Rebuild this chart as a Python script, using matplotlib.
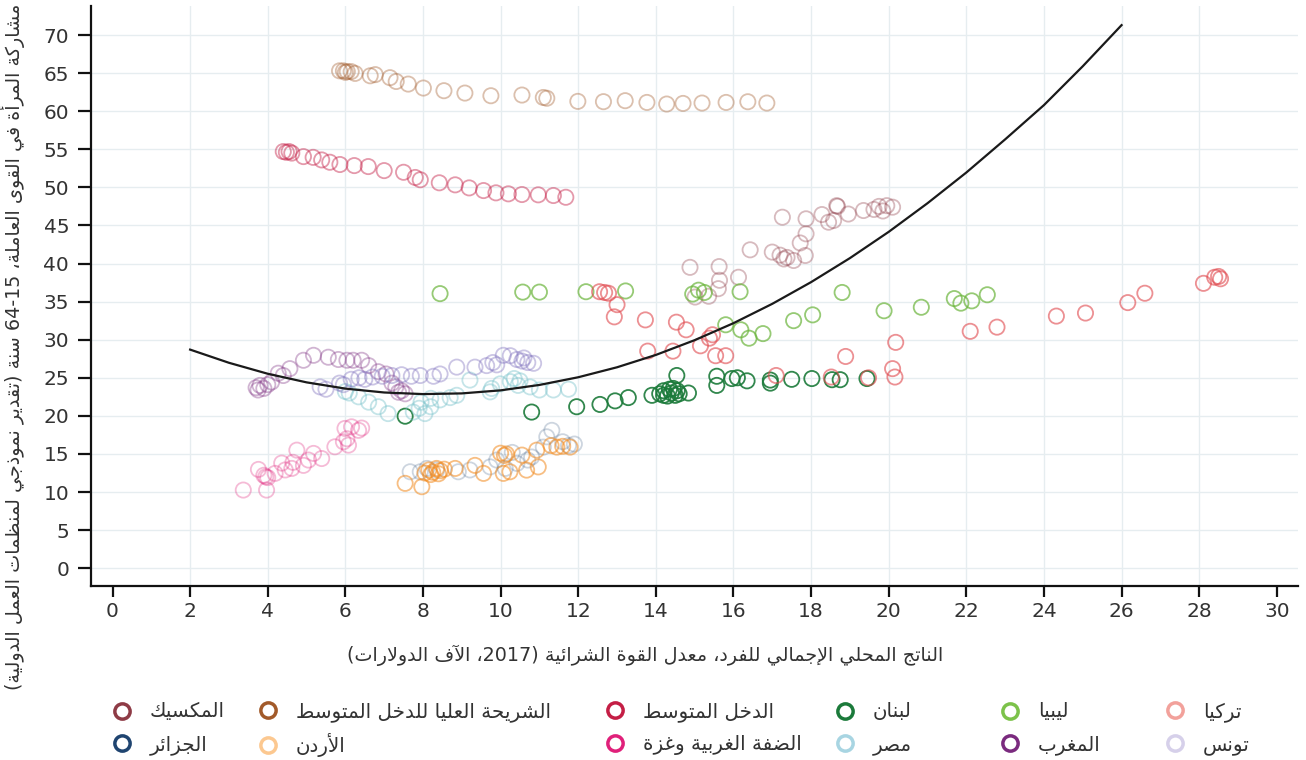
#!/usr/bin/env python3
# مشاركة المرأة في القوى العاملة مقابل الناتج المحلي للفرد - scatter + quadratic trend.

import re

import matplotlib
matplotlib.use("Agg")
import matplotlib.pyplot as plt
from matplotlib.lines import Line2D

# ---------------------------------------------------------------- data
mexico_x = [14.88, 15.63, 16.13, 15.64, 15.61, 15.01, 15.36, 16.43, 17.0, 17.2, 17.3, 17.38, 17.55, 17.72,
            17.85, 17.87, 17.26, 17.87, 18.28, 18.45, 18.58, 18.66, 18.68, 18.96, 19.35, 19.62, 19.75,
            19.85, 19.95, 20.1]
mexico_y = [39.5, 39.6, 38.2, 37.8, 36.7, 35.6, 35.7, 41.8, 41.5, 41.1, 40.6, 40.8, 40.4, 42.7,
            41.06, 43.9, 46.08, 45.87, 46.43, 45.43, 45.65, 47.6, 47.5, 46.5, 46.96, 47.1, 47.5,
            46.9, 47.6, 47.4]

umi_x = [5.85, 5.95, 6.05, 6.15, 6.0, 6.25, 6.64, 6.77, 7.15, 7.31, 7.62, 8.01, 8.54, 9.08, 9.75, 10.55,
         11.1, 11.19, 11.99, 12.65, 13.21, 13.77, 14.28, 14.70, 15.19, 15.81, 16.37, 16.86]
umi_y = [65.3, 65.3, 65.2, 65.2, 65.1, 64.96, 64.65, 64.8, 64.4, 63.9, 63.56, 63.04, 62.69, 62.38, 62.03,
         62.12, 61.8, 61.7, 61.29, 61.25, 61.38, 61.15, 60.94, 61.02, 61.07, 61.15, 61.24, 61.07]

mi_x = [4.40, 4.48, 4.55, 4.62, 4.92, 5.17, 5.39, 5.6, 5.86, 6.23, 6.59, 7.0, 7.5, 7.8, 7.93, 8.42, 8.83,
        9.19, 9.56, 9.88, 10.2, 10.55, 10.97, 11.36, 11.68]
mi_y = [54.7, 54.6, 54.7, 54.5, 54.04, 53.94, 53.6, 53.3, 53.0, 52.86, 52.73, 52.2, 51.98, 51.3, 51.0,
        50.6, 50.33, 49.93, 49.58, 49.28, 49.15, 49.06, 49.02, 48.93, 48.7]

lebanon_x = [7.54, 10.8, 11.96, 12.56, 12.95, 13.29, 13.9, 14.1, 14.2, 14.3, 14.35, 14.4, 14.5, 14.55,
             14.6, 14.2, 14.45, 14.84, 14.54, 15.57, 15.57, 15.96, 16.1, 16.35, 16.95, 16.95, 17.5,
             18.02, 18.54, 18.75, 19.44]
lebanon_y = [19.96, 20.5, 21.2, 21.5, 21.97, 22.4, 22.7, 22.9, 23.3, 22.6, 23.5, 23.0, 22.7, 23.3,
             22.9, 22.7, 23.6, 23.0, 25.3, 25.2, 24.0, 24.9, 25.0, 24.6, 24.7, 24.3, 24.8,
             24.9, 24.75, 24.75, 24.9]

libya_x = [8.44, 10.57, 11.0, 12.2, 13.22, 14.95, 15.1, 15.25, 16.17, 18.8, 15.8, 16.19, 16.4, 16.76,
           17.55, 18.04, 19.88, 20.84, 21.69, 21.86, 22.14, 22.54]
libya_y = [36.05, 36.25, 36.25, 36.3, 36.4, 36.0, 36.5, 36.2, 36.3, 36.2, 31.96, 31.3, 30.2, 30.8,
           32.5, 33.26, 33.8, 34.26, 35.4, 34.8, 35.1, 35.9]

turkey_x = [12.55, 12.68, 12.78, 13.0, 12.93, 13.73, 14.53, 14.78, 15.46, 15.38, 15.15, 15.54, 15.8,
            13.79, 14.44, 17.1, 18.52, 19.48, 20.16, 20.1, 18.89, 20.18, 22.1, 22.79, 24.32, 25.07,
            26.16, 26.6, 28.11, 28.4, 28.5, 28.55]
turkey_y = [36.3, 36.2, 36.1, 34.6, 33.0, 32.6, 32.3, 31.3, 30.65, 30.2, 29.2, 27.9, 27.9,
            28.5, 28.5, 25.3, 25.1, 25.0, 25.1, 26.2, 27.8, 29.65, 31.1, 31.65, 33.1, 33.5,
            34.87, 36.1, 37.4, 38.2, 38.3, 38.0]

algeria_x = [7.67, 7.93, 8.1, 8.36, 8.91, 9.21, 9.73, 10.12, 10.42, 10.7, 10.8, 11.1, 11.19, 11.32,
             11.6, 11.75, 11.9, 10.3, 9.9]
algeria_y = [12.66, 12.66, 13.1, 12.9, 12.66, 12.9, 13.3, 13.1, 13.76, 14.2, 14.6, 15.9, 17.25, 18.1,
             16.6, 16.1, 16.3, 15.2, 14.2]

jordan_x = [7.54, 7.97, 8.05, 8.15, 8.25, 8.35, 8.45, 8.55, 8.2, 8.4, 8.83, 9.34, 9.56, 10.0, 10.1,
            10.15, 10.07, 10.24, 10.55, 10.67, 10.97, 10.93, 11.3, 11.45, 11.6, 11.79]
jordan_y = [11.14, 10.7, 12.5, 12.9, 12.6, 13.1, 12.8, 13.0, 12.3, 12.4, 13.1, 13.5, 12.45, 15.1, 14.8,
            15.0, 12.45, 12.66, 14.85, 12.88, 13.3, 15.5, 16.1, 15.9, 16.0, 15.9]

wbg_x = [3.37, 3.97, 3.76, 3.9, 4.0, 3.95, 4.19, 4.45, 4.36, 4.62, 4.65, 4.75, 4.92, 5.05, 5.18, 5.39,
         5.73, 5.95, 6.08, 5.99, 6.16, 6.34, 6.42, 6.04]
wbg_y = [10.26, 10.26, 12.97, 12.2, 11.9, 12.0, 12.45, 12.9, 13.8, 13.1, 13.9, 15.5, 13.5, 14.2, 15.07,
         14.4, 15.94, 16.6, 16.16, 18.35, 18.56, 18.1, 18.4, 17.0]

egypt_x = [6.0, 6.1, 6.34, 6.6, 6.85, 7.1, 7.75, 7.9, 8.05, 8.2, 7.95, 8.2, 8.44, 8.7, 8.87, 9.21,
           9.73, 9.77, 9.99, 10.25, 10.35, 10.45, 10.5, 10.76, 11.0, 11.36, 11.75]
egypt_y = [23.2, 23.0, 22.5, 21.8, 21.2, 20.3, 20.5, 21.0, 20.3, 21.2, 21.8, 22.3, 22.1, 22.4, 22.7,
           24.7, 23.15, 23.6, 24.2, 24.5, 24.9, 24.0, 24.6, 23.8, 23.4, 23.4, 23.5]

morocco_x = [3.7, 3.8, 3.9, 4.0, 3.75, 4.1, 4.27, 4.4, 4.57, 4.92, 5.18, 5.56, 5.82, 6.04, 6.2, 6.42,
             6.6, 6.85, 7.05, 7.2, 7.3, 7.37, 7.45, 7.54]
morocco_y = [23.7, 24.0, 23.6, 24.1, 23.4, 24.45, 25.6, 25.3, 26.2, 27.3, 27.95, 27.7, 27.4, 27.3,
             27.3, 27.3, 26.6, 25.8, 25.5, 24.3, 23.8, 23.1, 23.3, 22.9]

tunisia_x = [5.35, 5.5, 5.85, 5.95, 6.15, 6.35, 6.5, 6.7, 6.95, 7.2, 7.45, 7.7, 7.93, 8.27, 8.44, 8.87,
             9.34, 9.64, 9.8, 9.9, 10.07, 10.25, 10.42, 10.55, 10.7, 10.85, 10.6]
tunisia_y = [23.8, 23.5, 24.3, 24.1, 24.8, 25.0, 24.8, 25.1, 25.2, 25.3, 25.4, 25.2, 25.3, 25.2, 25.5,
             26.4, 26.4, 26.6, 27.0, 26.7, 27.95, 27.9, 27.4, 27.2, 27.0, 26.9, 27.6]

# trend curve
trend_x = [2, 3, 4, 5, 6, 7, 8, 9, 10, 11, 12, 13, 14, 15, 16, 17, 18, 19, 20, 21, 22, 23, 24, 25, 26]
trend_y = [28.7, 26.97, 25.53, 24.4, 23.58, 23.07, 22.86, 22.95, 23.35, 24.06, 25.07, 26.38, 28.0,
           29.94, 32.17, 34.71, 37.56, 40.71, 44.16, 47.92, 51.95, 56.3, 60.8, 65.9, 71.3]

x_ticks = list(range(0, 31, 2))
y_ticks = list(range(0, 71, 5))

X_LABEL = "الناتج المحلي الإجمالي للفرد، معدل القوة الشرائية (2017، الآف الدولارات)"
Y_LABEL = "مشاركة المرأة في القوى العاملة، 15-64 سنة (تقدير نموذجي لمنظمات العمل الدولية)"

# (label, x, y, point colour, point alpha, legend colour)
SERIES = [
    ("المكسيك", mexico_x, mexico_y, "#8e3b46", 0.35, "#8e3b46"),
    ("الشريحة العليا للدخل المتوسط", umi_x, umi_y, "#a25a2a", 0.38, "#a25a2a"),
    ("الدخل المتوسط", mi_x, mi_y, "#c41e45", 0.45, "#c41e45"),
    ("لبنان", lebanon_x, lebanon_y, "#1b7a3a", 0.9, "#1b7a3a"),
    ("ليبيا", libya_x, libya_y, "#6ab43a", 0.7, "#7cc24a"),
    ("تركيا", turkey_x, turkey_y, "#e0474c", 0.6, "#f2a19b"),
    ("الجزائر", algeria_x, algeria_y, "#1f4470", 0.22, "#1f4470"),
    ("الأردن", jordan_x, jordan_y, "#f28a1e", 0.55, "#fcc890"),
    ("الضفة الغربية وغزة", wbg_x, wbg_y, "#e0207a", 0.3, "#e0207a"),
    ("مصر", egypt_x, egypt_y, "#7cc4cc", 0.45, "#a8d5e2"),
    ("المغرب", morocco_x, morocco_y, "#7a2a7e", 0.35, "#7a2a7e"),
    ("تونس", tunisia_x, tunisia_y, "#7d6fbd", 0.4, "#d6d0ea"),
]

# legend grid: marker centre in pixels (columns right-to-left in the original)
LEGEND_COLS_PX = [122, 268, 615, 845, 1010, 1175]
LEGEND_ROWS_PX = [712, 745]
LEGEND_ORDER = [
    ["المكسيك", "الجزائر"],
    ["الشريحة العليا للدخل المتوسط", "الأردن"],
    ["الدخل المتوسط", "الضفة الغربية وغزة"],
    ["لبنان", "مصر"],
    ["ليبيا", "المغرب"],
    ["تركيا", "تونس"],
]

# ---------------------------------------------------------------- arabic shaping
# presentation form base code and join type (0 none, 1 right-joining, 2 dual)
AR_FORMS = {
    "ء": (0xFE80, 0), "آ": (0xFE81, 1), "أ": (0xFE83, 1), "ؤ": (0xFE85, 1), "إ": (0xFE87, 1),
    "ئ": (0xFE89, 2), "ا": (0xFE8D, 1), "ب": (0xFE8F, 2), "ة": (0xFE93, 1), "ت": (0xFE95, 2),
    "ث": (0xFE99, 2), "ج": (0xFE9D, 2), "ح": (0xFEA1, 2), "خ": (0xFEA5, 2), "د": (0xFEA9, 1),
    "ذ": (0xFEAB, 1), "ر": (0xFEAD, 1), "ز": (0xFEAF, 1), "س": (0xFEB1, 2), "ش": (0xFEB5, 2),
    "ص": (0xFEB9, 2), "ض": (0xFEBD, 2), "ط": (0xFEC1, 2), "ظ": (0xFEC5, 2), "ع": (0xFEC9, 2),
    "غ": (0xFECD, 2), "ف": (0xFED1, 2), "ق": (0xFED5, 2), "ك": (0xFED9, 2), "ل": (0xFEDD, 2),
    "م": (0xFEE1, 2), "ن": (0xFEE5, 2), "ه": (0xFEE9, 2), "و": (0xFEED, 1), "ى": (0xFEEF, 1),
    "ي": (0xFEF1, 2),
}
LAM_ALEF = {"ا": 0xFEFB, "أ": 0xFEF7, "إ": 0xFEF9, "آ": 0xFEF5}
MIRROR = {"(": ")", ")": "("}


def ar(text: str) -> str:
    # matplotlib has no shaping/bidi: pick contextual forms and reverse to visual order.
    items = []
    i = 0
    while i < len(text):
        c = text[i]
        if c == "ل" and i + 1 < len(text) and text[i + 1] in LAM_ALEF:
            items.append((LAM_ALEF[text[i + 1]], 1))
            i += 2
            continue
        items.append(AR_FORMS.get(c, (c, None)))
        i += 1

    shaped = []
    for k, (base, jt) in enumerate(items):
        if jt is None:
            shaped.append(MIRROR.get(base, base))
            continue
        prev_joins = jt > 0 and k > 0 and items[k - 1][1] == 2
        next_joins = jt == 2 and k + 1 < len(items) and items[k + 1][1] in (1, 2)
        if prev_joins and next_joins:
            off = 3
        elif prev_joins:
            off = 1
        elif next_joins:
            off = 2
        else:
            off = 0
        shaped.append(chr(base + off))

    tokens = re.findall(r"\d+|\D", "".join(shaped))
    return "".join(reversed(tokens))


# ---------------------------------------------------------------- plot
plt.rcParams["font.family"] = ["DejaVu Sans"]
TEXT_C = "#333333"
W, H = 1306.0, 760.0

fig = plt.figure(figsize=(13.06, 7.6), dpi=100)
ax = fig.add_axes([0.0695, 0.2293, 0.9245, 0.7627])

for label, xs, ys, color, alpha, _ in SERIES:
    ax.scatter(xs, ys, s=120, facecolors="none", edgecolors=color, linewidths=1.3, alpha=alpha, zorder=3)

ax.plot(trend_x, trend_y, color="#1a1a1a", linewidth=1.6, zorder=4)

ax.set_xlim(-0.56, 30.55)
ax.set_ylim(-2.3, 73.8)
ax.set_xticks(x_ticks)
ax.set_yticks(y_ticks)
ax.grid(True, color="#e6edf0", linewidth=1.0, zorder=0)
ax.set_axisbelow(True)
xgrid = ax.xaxis.get_gridlines()
xgrid[0].set_visible(False)
xgrid[-1].set_visible(False)

for side in ("top", "right"):
    ax.spines[side].set_visible(False)
for side in ("left", "bottom"):
    ax.spines[side].set_linewidth(1.6)
    ax.spines[side].set_color("#111111")

ax.tick_params(axis="x", length=8, width=1.6, color="#111111", labelsize=14.5, labelcolor=TEXT_C, pad=4)
ax.tick_params(axis="y", length=9.5, width=1.6, color="#111111", labelsize=14.5, labelcolor=TEXT_C, pad=6)

# axis titles placed like the original (centred on the figure rather than the axes)
fig.text(645 / W, 1 - 655 / H, ar(X_LABEL), fontsize=13.8, color=TEXT_C, ha="center", va="center")
fig.text(13 / W, 1 - 347 / H, ar(Y_LABEL), fontsize=13.8, color=TEXT_C, ha="center", va="center",
         rotation=90)

# legend: one small legend per entry to keep the original column positions
style = {label: legend_c for label, _, _, _, _, legend_c in SERIES}
LEG_FS = 14.3
half_handle_px = 0.9 * LEG_FS * 100 / 72 / 2
for col_px, names in zip(LEGEND_COLS_PX, LEGEND_ORDER):
    for row_px, name in zip(LEGEND_ROWS_PX, names):
        handle = Line2D([], [], linestyle="none", marker="o", markersize=11,
                        markerfacecolor="none", markeredgecolor=style[name], markeredgewidth=2.5)
        leg = fig.legend(handles=[handle], labels=[ar(name)], loc="center left",
                         bbox_to_anchor=((col_px - half_handle_px) / W, 1 - row_px / H),
                         frameon=False, borderpad=0, borderaxespad=0,
                         handlelength=0.9, handletextpad=0.95, fontsize=LEG_FS)
        for t in leg.get_texts():
            t.set_color(TEXT_C)

fig.savefig("out.png", dpi=100)
